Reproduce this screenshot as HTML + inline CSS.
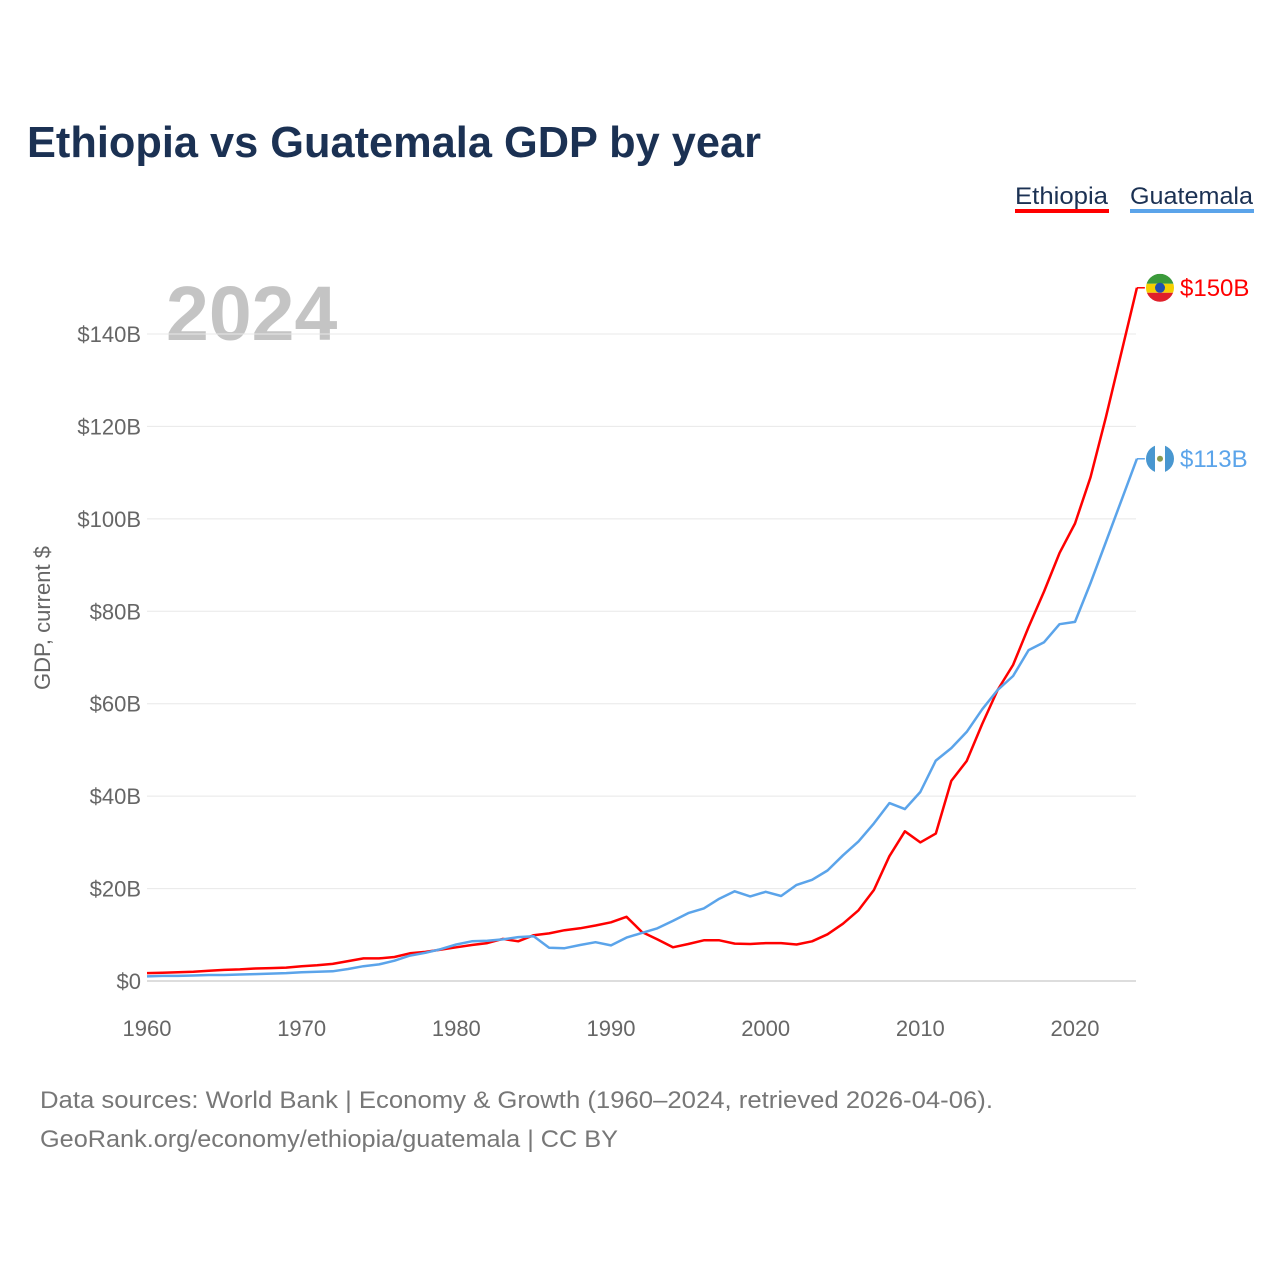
<!DOCTYPE html>
<html><head><meta charset="utf-8"><style>
body{margin:0;background:#fff;width:1280px;height:1280px;overflow:hidden;font-family:"Liberation Sans",sans-serif}
</style></head><body>
<svg width="1280" height="1280" xmlns="http://www.w3.org/2000/svg">
<text x="27" y="157" font-size="44" font-weight="bold" fill="#1b3153" textLength="734" lengthAdjust="spacingAndGlyphs">Ethiopia vs Guatemala GDP by year</text>
<g>
<g><text x="1015" y="204" font-size="24" fill="#1b3153" textLength="93" lengthAdjust="spacingAndGlyphs">Ethiopia</text><rect x="1015" y="209" width="94" height="4" fill="#ff0000"/></g>
<g><text x="1130" y="204" font-size="24" fill="#1b3153" textLength="123" lengthAdjust="spacingAndGlyphs">Guatemala</text><rect x="1130" y="209" width="124" height="4" fill="#5ba4ea"/></g>
</g>
<text x="166" y="340" font-size="77" font-weight="bold" fill="#c4c4c4">2024</text>
<g id="grid"></g>
<g id="yticks"></g>
<g id="xticks"></g>
<text transform="translate(50,618) rotate(-90)" text-anchor="middle" font-size="22" fill="#666">GDP, current $</text>
<g id="series"></g>
<text x="40" y="1108" font-size="24" fill="#777" textLength="953" lengthAdjust="spacingAndGlyphs">Data sources: World Bank | Economy &amp; Growth (1960–2024, retrieved 2026-04-06).</text>
<text x="40" y="1147" font-size="24" fill="#777" textLength="578" lengthAdjust="spacingAndGlyphs">GeoRank.org/economy/ethiopia/guatemala | CC BY</text>
</svg>
<script>
const years=[];for(let y=1960;y<=2024;y++)years.push(y);
const ethiopia=[1.7,1.8,1.9,2.0,2.2,2.4,2.5,2.7,2.8,2.9,3.2,3.4,3.7,4.3,4.9,4.9,5.2,6.0,6.3,6.8,7.3,7.8,8.2,9.1,8.6,9.9,10.3,11.0,11.4,12.0,12.7,13.9,10.6,9.0,7.3,8.0,8.8,8.8,8.1,8.0,8.2,8.2,7.9,8.6,10.1,12.4,15.3,19.7,27.0,32.4,30.0,31.9,43.3,47.6,55.6,63.0,68.4,76.6,84.3,92.6,99.0,109,122,136,150];
const guatemala=[1.0,1.1,1.1,1.2,1.3,1.3,1.4,1.5,1.6,1.7,1.9,2.0,2.1,2.6,3.2,3.6,4.4,5.5,6.1,6.9,7.9,8.6,8.7,9.0,9.5,9.7,7.2,7.1,7.8,8.4,7.7,9.4,10.4,11.4,13.0,14.7,15.7,17.8,19.4,18.3,19.3,18.4,20.8,21.9,23.9,27.2,30.2,34.1,38.5,37.2,40.9,47.7,50.4,53.9,58.8,63.0,66.0,71.6,73.3,77.2,77.7,86.1,95.0,104,113];
const yTickVals=[0,20,40,60,80,100,120,140];
const xTickVals=[1960,1970,1980,1990,2000,2010,2020];
const NS="http://www.w3.org/2000/svg";
const xs=y=>147+(y-1960)*(928/60);
const ys=v=>981-v*(647/140);
function mk(t,a,p){const e=document.createElementNS(NS,t);for(const k in a)e.setAttribute(k,a[k]);p.appendChild(e);return e;}
const grid=document.getElementById('grid'),yt=document.getElementById('yticks'),xt=document.getElementById('xticks'),ser=document.getElementById('series');
yTickVals.forEach(v=>{
 const l=mk('line',{x1:147,x2:1136,y1:ys(v),y2:ys(v),stroke:v===0?'#ddd':'#e8e8e8','stroke-width':v===0?2:1},grid);
 
 
 const t=mk('text',{x:141,y:ys(v)+8,'text-anchor':'end','font-size':22,fill:'#666'},yt);
 t.textContent='$'+v+(v?'B':'');
 
 
});
xTickVals.forEach(v=>{
 const t=mk('text',{x:xs(v),y:1036,'text-anchor':'middle','font-size':22,fill:'#666'},xt);
 t.textContent=v;
 
 
});
function line(data,color,name){
 const d=data.map((v,i)=>(i?'L':'M')+xs(years[i]).toFixed(1)+','+ys(v).toFixed(1)).join('');
 const p=mk('path',{d:d,fill:'none',stroke:color,'stroke-width':2.5,'stroke-linejoin':'round'},ser);
 
 
 const last=data[data.length-1],ly=ys(last),lx=xs(years[years.length-1]);
 const c=mk('line',{x1:lx,x2:lx+8,y1:ly,y2:ly,stroke:color,'stroke-width':1.5},ser);
 
 
 return [lx,ly,last];
}
const e=line(ethiopia,'#ff0000','ethiopia');
const g=line(guatemala,'#5ba4ea','guatemala');
function flag(x,y,name,cols){
 const grp=mk('g',{},ser);
 
 
 const id='c'+name;
 const cp=mk('clipPath',{id:id},grp);mk('circle',{cx:x,cy:y,r:14},cp);
 const gg=mk('g',{'clip-path':'url(#'+id+')'},grp);
 cols(gg,x,y);
}
flag(1160,e[1],'ethiopia',(p,x,y)=>{
 mk('rect',{x:x-14,y:y-14,width:28,height:10,fill:'#3a9a3a'},p);
 mk('rect',{x:x-14,y:y-4,width:28,height:9,fill:'#f5d000'},p);
 mk('rect',{x:x-14,y:y+5,width:28,height:10,fill:'#e0202a'},p);
 mk('circle',{cx:x,cy:y,r:5,fill:'#1f4fb0'},p);
});
flag(1160,g[1],'guatemala',(p,x,y)=>{
 mk('rect',{x:x-14,y:y-14,width:9,height:28,fill:'#4997d0'},p);
 mk('rect',{x:x-5,y:y-14,width:10,height:28,fill:'#fff'},p);
 mk('rect',{x:x+5,y:y-14,width:9,height:28,fill:'#4997d0'},p);
 mk('circle',{cx:x,cy:y,r:3,fill:'#8a9a50'},p);
});
function lab(y,v,color,name){
 const t=mk('text',{x:1180,y:y+8,'font-size':24,fill:color},ser);
 t.textContent='$'+Math.round(v)+'B';
 
 
}
lab(e[1],e[2],'#ff0000','ethiopia');
lab(g[1],g[2],'#5ba4ea','guatemala');
</script>
</body></html>
